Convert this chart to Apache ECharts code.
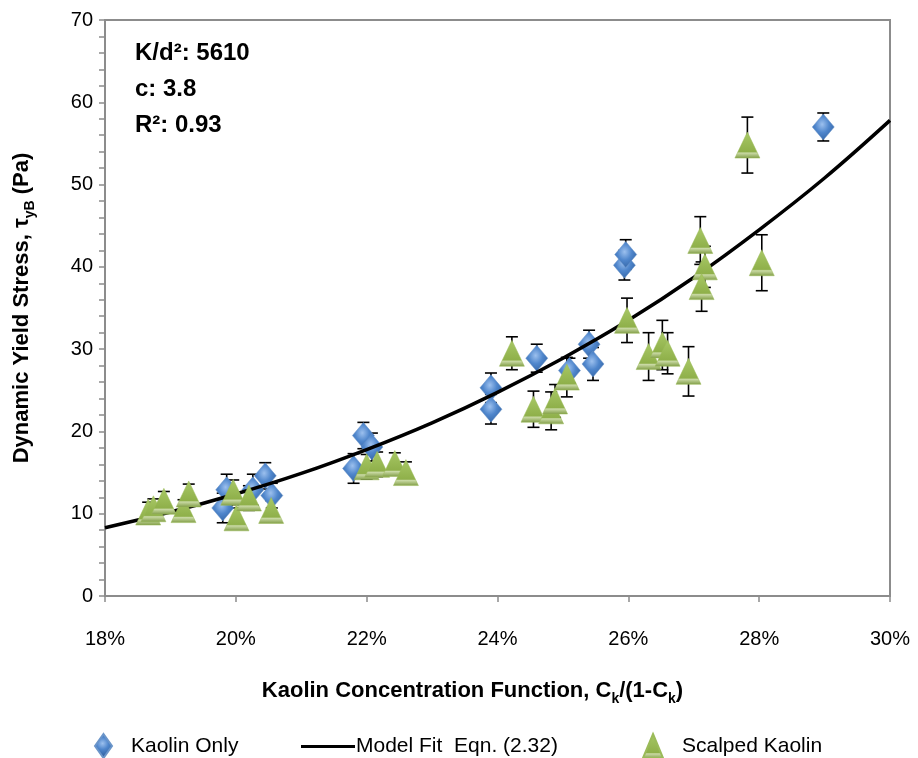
<!DOCTYPE html>
<html>
<head>
<meta charset="utf-8">
<script src="https://cdn.jsdelivr.net/npm/echarts@6/dist/echarts.min.js"></script>
<style>
html,body{margin:0;padding:0;background:#fff;}
#chart{width:918px;height:758px;}
</style>
</head>
<body>
<div id="chart"></div>
<script>
// ---- Data (x in %, y in Pa) ----
const kaolinX   = [19.80, 19.86, 20.26, 20.45, 20.55, 21.80, 21.95, 22.08, 23.90, 23.90, 24.60, 25.10, 25.40, 25.46, 25.94, 25.96, 28.98];
const kaolinY   = [10.7, 12.9, 12.9, 14.6, 12.2, 15.5, 19.5, 18.1, 25.3, 22.7, 28.9, 27.4, 30.6, 28.2, 40.2, 41.5, 57.0];
const kaolinErr = [1.8, 1.9, 1.9, 1.6, 1.5, 1.8, 1.6, 1.7, 1.8, 1.8, 1.7, 1.5, 1.7, 2.0, 1.8, 1.8, 1.7];

const scalpedX   = [18.66, 18.74, 18.90, 19.20, 19.28, 19.96, 20.01, 20.20, 20.54, 22.00, 22.16, 22.43, 22.60, 24.22, 24.55, 24.82, 24.88, 25.06, 25.98, 26.31, 26.52, 26.60, 26.92, 27.10, 27.17, 27.12, 27.82, 28.04];
const scalpedY   = [10.2, 10.6, 11.5, 10.5, 12.4, 12.6, 9.5, 11.9, 10.4, 15.7, 16.0, 16.1, 15.0, 29.5, 22.7, 22.5, 23.7, 26.6, 33.5, 29.1, 30.5, 29.5, 27.3, 43.2, 40.0, 37.6, 54.8, 40.5];
const scalpedErr = [1.2, 1.2, 1.2, 1.2, 1.2, 1.5, 1.2, 1.5, 1.2, 1.5, 1.5, 1.3, 1.3, 2.0, 2.2, 2.3, 2.0, 2.4, 2.7, 2.9, 3.0, 2.5, 3.0, 2.9, 2.5, 3.0, 3.4, 3.4];

// Model fit curve
const fitX = [18, 19, 20, 21, 22, 23, 24, 25, 26, 27, 28, 29, 30];
const fitY = [8.3, 10.2, 12.4, 14.9, 17.8, 21.05, 24.75, 28.9, 33.5, 38.7, 44.5, 50.8, 57.8];

const annotations = ['K/d\u00B2: 5610', 'c: 3.8', 'R\u00B2: 0.93'];

const seriesNames = ['Kaolin Only', 'Model Fit  Eqn. (2.32)', 'Scalped Kaolin'];

// ---- Build ----
const FONT = "'Liberation Sans', Arial, sans-serif";
const kaolinData = kaolinX.map((x, i) => [x, kaolinY[i]]);
const scalpedData = scalpedX.map((x, i) => [x, scalpedY[i]]);
const kaolinErrData = kaolinX.map((x, i) => [x, kaolinY[i], kaolinErr[i]]);
const scalpedErrData = scalpedX.map((x, i) => [x, scalpedY[i], scalpedErr[i]]);
const fitData = fitX.map((x, i) => [x, fitY[i]]);

function errRender(params, api) {
  const x = api.value(0), y = api.value(1), e = api.value(2);
  const top = api.coord([x, y + e]);
  const bot = api.coord([x, y - e]);
  const w = 6;
  const style = { stroke: '#000', lineWidth: 1.6 };
  return {
    type: 'group',
    children: [
      { type: 'line', shape: { x1: top[0], y1: top[1], x2: bot[0], y2: bot[1] }, style },
      { type: 'line', shape: { x1: top[0] - w, y1: top[1], x2: top[0] + w, y2: top[1] }, style },
      { type: 'line', shape: { x1: bot[0] - w, y1: bot[1], x2: bot[0] + w, y2: bot[1] }, style }
    ]
  };
}

const blueFill = new echarts.graphic.RadialGradient(0.45, 0.4, 0.7, [
  { offset: 0, color: '#9cc0ee' },
  { offset: 0.45, color: '#4f86cc' },
  { offset: 1, color: '#2f5f9e' }
]);
const greenFill = new echarts.graphic.LinearGradient(0, 0, 0, 1, [
  { offset: 0, color: '#a8c866' },
  { offset: 0.75, color: '#8fb04a' },
  { offset: 0.8, color: '#c9d9a4' },
  { offset: 1, color: '#7f9c44' }
]);

const chart = echarts.init(document.getElementById('chart'), null, { renderer: 'canvas' });
const axisGrey = '#8c8c8c';

const richName = {
  b: { fontSize: 22, fontWeight: 'bold', color: '#000', fontFamily: FONT, lineHeight: 26, verticalAlign: 'bottom' },
  s: { fontSize: 14, fontWeight: 'bold', color: '#000', fontFamily: FONT, lineHeight: 26, verticalAlign: 'bottom', padding: [0, 0, -4, 0] }
};

chart.setOption({
  animation: false,
  backgroundColor: '#fff',
  textStyle: { fontFamily: FONT },
  grid: { left: 105, right: 28, top: 20, bottom: 162, show: true, borderColor: axisGrey, borderWidth: 2, containLabel: false },
  xAxis: {
    type: 'value', min: 18, max: 30, interval: 2,
    axisLine: { show: true, onZero: false, lineStyle: { color: axisGrey, width: 2 } },
    axisTick: { show: true, inside: false, length: 6, lineStyle: { color: axisGrey, width: 1.5 } },
    splitLine: { show: false },
    axisLabel: { formatter: v => v + '%', fontSize: 20, color: '#000', margin: 33, fontFamily: FONT },
    name: '{b|Kaolin Concentration Function, C}{s|k}{b|/(1-C}{s|k}{b|)}',
    nameLocation: 'middle', nameGap: 80,
    nameTextStyle: { rich: richName, padding: [0, 50, 0, 0] }
  },
  yAxis: {
    type: 'value', min: 0, max: 70, interval: 10,
    axisLine: { show: true, onZero: false, lineStyle: { color: axisGrey, width: 2 } },
    axisTick: { show: true, inside: false, length: 6, lineStyle: { color: axisGrey, width: 1.5 } },
    minorTick: { show: true, splitNumber: 5, length: 6, lineStyle: { color: axisGrey, width: 1.5 } },
    splitLine: { show: false },
    axisLabel: { fontSize: 20, color: '#000', margin: 12, fontFamily: FONT },
    name: '{b|Dynamic Yield Stress, \u03C4}{s|yB}{b| (Pa)}',
    nameLocation: 'middle', nameGap: 72, nameRotate: 90,
    nameTextStyle: { rich: richName }
  },
  legend: [
    { data: [seriesNames[0]], left: 89, top: 728, itemWidth: 17, itemHeight: 24, itemGap: 0,
      textStyle: { fontSize: 21, color: '#000', fontFamily: FONT, padding: [0, 0, 0, 14] } },
    { data: [{ name: seriesNames[1], icon: 'rect' }], left: 296, top: 731, itemWidth: 54, itemHeight: 3, itemGap: 0,
      textStyle: { fontSize: 21, color: '#000', fontFamily: FONT, padding: [0, 0, 0, -4] } },
    { data: [seriesNames[2]], left: 637, top: 728, itemWidth: 20, itemHeight: 24, itemGap: 0,
      textStyle: { fontSize: 21, color: '#000', fontFamily: FONT, padding: [0, 0, 0, 14] } }
  ],
  graphic: annotations.map((t, i) => ({
    type: 'text', left: 135, top: 41 + i * 36, z: 10,
    style: { text: t, fontSize: 24, fontWeight: 'bold', fill: '#000', fontFamily: FONT }
  })),
  series: [
    { type: 'custom', name: 'kaolinErr', renderItem: errRender, data: kaolinErrData, z: 1, encode: { x: 0, y: 1 }, silent: true },
    { type: 'custom', name: 'scalpedErr', renderItem: errRender, data: scalpedErrData, z: 1, encode: { x: 0, y: 1 }, silent: true },
    { type: 'scatter', name: seriesNames[0], data: kaolinData, symbol: 'diamond', symbolSize: [22, 26], z: 2,
      itemStyle: { color: blueFill, borderColor: '#6b95c9', borderWidth: 0.5, opacity: 1 } },
    { type: 'line', name: seriesNames[1], data: fitData, smooth: 0.4, showSymbol: false, symbol: 'none', z: 3,
      lineStyle: { color: '#000', width: 3.5 }, itemStyle: { color: '#000' } },
    { type: 'scatter', name: seriesNames[2], data: scalpedData, symbol: 'triangle', symbolSize: [25, 26], z: 4,
      itemStyle: { color: greenFill, borderColor: '#9bbb59', borderWidth: 0.5, opacity: 1 } }
  ]
});
</script>
</body>
</html>
